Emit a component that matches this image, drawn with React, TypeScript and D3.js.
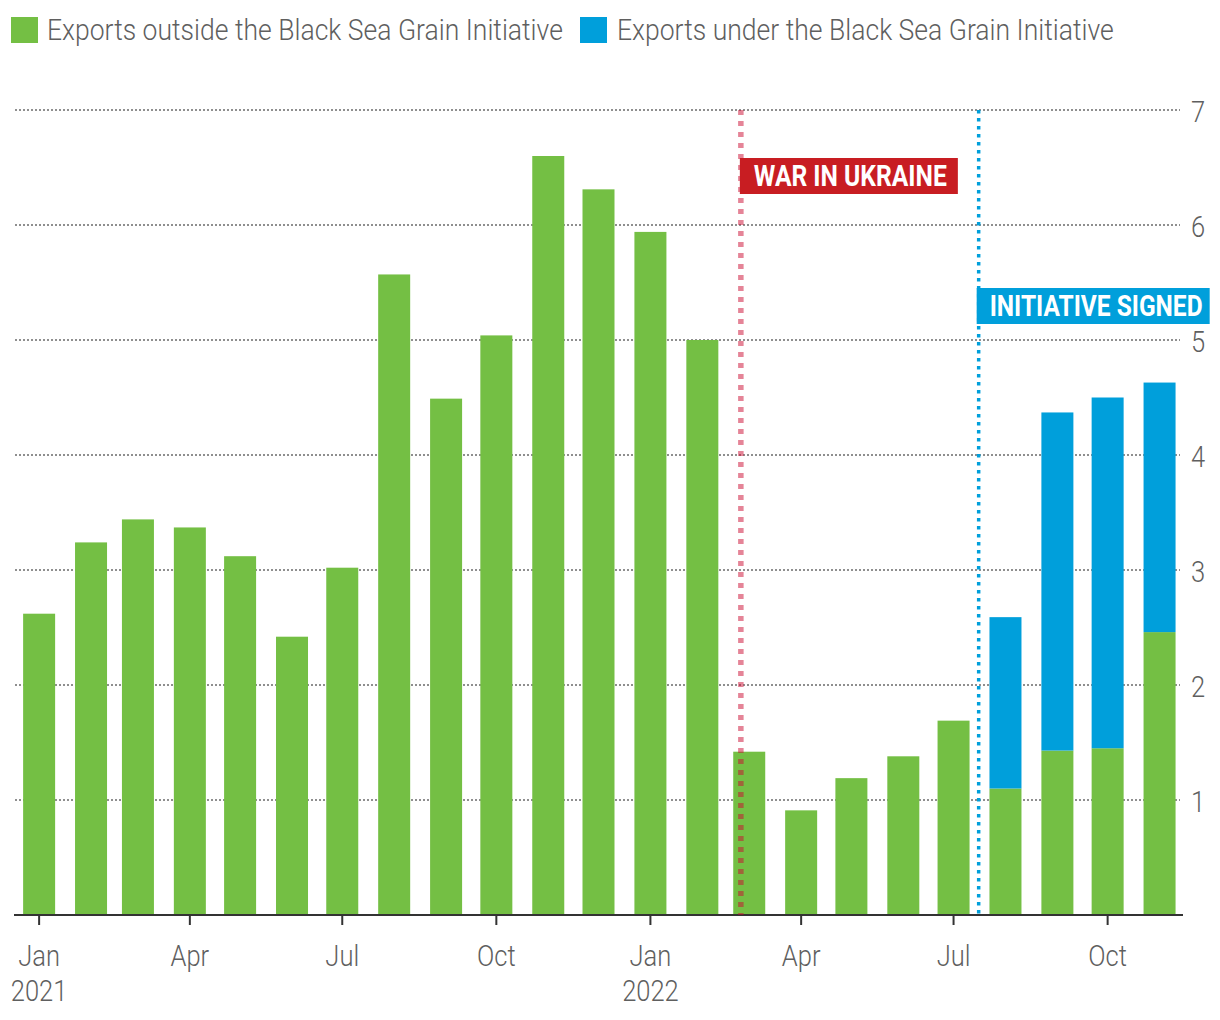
import React from 'react';
import * as d3 from 'd3';

// ---------- DATA ----------
const months: string[] = [
  '2021-01', '2021-02', '2021-03', '2021-04', '2021-05', '2021-06', '2021-07', '2021-08',
  '2021-09', '2021-10', '2021-11', '2021-12', '2022-01', '2022-02', '2022-03', '2022-04',
  '2022-05', '2022-06', '2022-07', '2022-08', '2022-09', '2022-10', '2022-11',
];
// million tonnes, exports outside the Black Sea Grain Initiative
const outsideValues: number[] = [
  2.62, 3.24, 3.44, 3.37, 3.12, 2.42, 3.02, 5.57, 4.49, 5.04, 6.6, 6.31, 5.94, 5.0,
  1.42, 0.91, 1.19, 1.38, 1.69, 1.1, 1.43, 1.45, 2.46,
];
// exports under the Black Sea Grain Initiative
const underValues: number[] = [
  0, 0, 0, 0, 0, 0, 0, 0, 0, 0, 0, 0, 0, 0, 0, 0, 0, 0, 0, 1.49, 2.94, 3.05, 2.17,
];
const seriesKeys: string[] = ['outside', 'under'];
const seriesLabels: string[] = [
  'Exports outside the Black Sea Grain Initiative',
  'Exports under the Black Sea Grain Initiative',
];
const yTicks: number[] = [1, 2, 3, 4, 5, 6, 7];
const xTickMonths: string[] = ['2021-01', '2021-04', '2021-07', '2021-10', '2022-01', '2022-04', '2022-07', '2022-10'];
const eventDates: string[] = ['2022-02-24', '2022-07-16'];
const eventLabels: string[] = ['WAR IN UKRAINE', 'INITIATIVE SIGNED'];
const xDomain: string[] = ['2020-12-17', '2022-11-15'];

// ---------- STYLE ----------
const GREEN = '#74bf44';
const BLUE = '#009fdb';
const RED = '#c81d22';
const WAR_LINE = '#cc0a2f';
const TEXT = '#5f5f5f';
const FONT = 'Roboto, "Noto Sans", sans-serif';

const W = 1220;
const H = 1020;
const parseMonth = d3.timeParse('%Y-%m');
const parseDay = d3.timeParse('%Y-%m-%d');

let ctx: CanvasRenderingContext2D | null = null;
function measure(text: string, size: number, weight: number): number {
  if (!ctx) ctx = document.createElement('canvas').getContext('2d');
  if (!ctx) return text.length * size * 0.5;
  ctx.font = `${weight} ${size}px Roboto`;
  return ctx.measureText(text).width;
}

function FitText(props: { x: number; y: number; w: number; size: number; weight: number; fill: string; text: string }) {
  const { x, y, w, size, weight, fill, text } = props;
  const nat = measure(text, size, weight);
  const sx = nat > 0 ? w / nat : 1;
  return (
    <text transform={`translate(${x},${y}) scale(${sx},1)`} fontSize={size} fontWeight={weight} fill={fill}>
      {text}
    </text>
  );
}

export default function App() {
  const x = d3
    .scaleTime()
    .domain(xDomain.map((d) => parseDay(d) as Date))
    .range([14, 1183]);
  const y = d3.scaleLinear().domain([0, 7]).range([915, 110]);
  const barW = 32;

  const rows = months.map((m, i) => ({
    date: parseMonth(m) as Date,
    outside: outsideValues[i],
    under: underValues[i],
  }));
  const stacked = d3.stack<any>().keys(seriesKeys)(rows);
  const colors = [GREEN, BLUE];

  const [x0, x1] = x.range();
  const legendPos = [
    { sx: 11, tx: 47, tw: 516 },
    { sx: 580, tx: 617, tw: 497 },
  ];
  const evStyle = [
    { stroke: WAR_LINE, opacity: 0.5, width: 5.5, dash: '5,6', fill: RED, boxY: 158, boxX: -1, boxW: 218, textX: 13, textW: 193 },
    { stroke: BLUE, opacity: 1, width: 3.5, dash: '3.5,4.5', fill: BLUE, boxY: 288, boxX: -2, boxW: 233, textX: 11, textW: 213 },
  ];

  return (
    <div style={{ position: 'absolute', left: 0, top: 0 }}>
      <svg width={W} height={H} style={{ display: 'block', background: '#fff' }} fontFamily={FONT}>
        {/* legend */}
        {seriesLabels.map((lab, i) => (
          <g key={lab}>
            <rect x={legendPos[i].sx} y={17} width={27} height={26} fill={colors[i]} />
            <FitText x={legendPos[i].tx} y={40} w={legendPos[i].tw} size={30} weight={300} fill={TEXT} text={lab} />
          </g>
        ))}

        {/* gridlines */}
        {yTicks.map((t) => (
          <line
            key={'g' + t}
            x1={x0 + 1}
            x2={x1 - 3}
            y1={y(t)}
            y2={y(t)}
            stroke="#8f8f8f"
            strokeWidth={2}
            strokeDasharray="2,2"
          />
        ))}
        {/* y tick labels */}
        {yTicks.map((t) => (
          <text
            key={'yl' + t}
            transform={`translate(1191,${y(t) + 12}) scale(0.88,1)`}
            fontSize={29}
            fontWeight={300}
            fill={TEXT}
          >
            {t}
          </text>
        ))}

        {/* bars */}
        {stacked.map((s, si) => (
          <g key={s.key} fill={colors[si]}>
            {s.map((d: any, i: number) =>
              d[1] - d[0] > 0 ? (
                <rect
                  key={i}
                  x={x(d.data.date) - barW / 2}
                  y={y(d[1])}
                  width={barW}
                  height={y(d[0]) - y(d[1])}
                />
              ) : null
            )}
          </g>
        ))}

        {/* x axis */}
        <line x1={x0} x2={x1} y1={y(0)} y2={y(0)} stroke="#333" strokeWidth={2} />
        {xTickMonths.map((m) => {
          const dt = parseMonth(m) as Date;
          const xp = x(dt);
          const isJan = dt.getMonth() === 0;
          return (
            <g key={m}>
              <line x1={xp} x2={xp} y1={y(0)} y2={y(0) + 10} stroke="#333" strokeWidth={2} />
              <text
                transform={`translate(${xp},966) scale(0.88,1)`}
                textAnchor="middle"
                fontSize={29}
                fontWeight={300}
                fill={TEXT}
              >
                {d3.timeFormat('%b')(dt)}
              </text>
              {isJan && (
                <text
                  transform={`translate(${xp},1001) scale(0.88,1)`}
                  textAnchor="middle"
                  fontSize={29}
                  fontWeight={300}
                  fill={TEXT}
                >
                  {d3.timeFormat('%Y')(dt)}
                </text>
              )}
            </g>
          );
        })}

        {/* event lines & labels */}
        {eventDates.map((ed, i) => {
          const xp = x(parseDay(ed) as Date);
          const st = evStyle[i];
          return (
            <g key={ed}>
              <line
                x1={xp}
                x2={xp}
                y1={110}
                y2={y(0)}
                stroke={st.stroke}
                strokeOpacity={st.opacity}
                strokeWidth={st.width}
                strokeDasharray={st.dash}
              />
              <rect x={xp + st.boxX} y={st.boxY} width={st.boxW} height={36} fill={st.fill} />
              <FitText
                x={xp + st.textX}
                y={st.boxY + 28}
                w={st.textW}
                size={29}
                weight={700}
                fill="#fff"
                text={eventLabels[i]}
              />
            </g>
          );
        })}
      </svg>
    </div>
  );
}
